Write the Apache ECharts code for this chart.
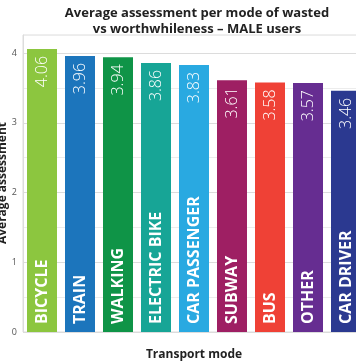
<!DOCTYPE html>
<html><head><meta charset="utf-8">
<script src="https://cdn.jsdelivr.net/npm/echarts@6/dist/echarts.min.js"></script>
<style>html,body{margin:0;padding:0;background:#fff;}#c{width:356px;height:364px;}</style>
</head><body><div id="c"></div>
<script>
const categories = ['BICYCLE','TRAIN','WALKING','ELECTRIC BIKE','CAR PASSENGER','SUBWAY','BUS','OTHER','CAR DRIVER'];
const values = [4.06, 3.96, 3.94, 3.86, 3.83, 3.61, 3.58, 3.57, 3.46];
const colors = ['#8cc63f','#1c75bc','#0f9447','#17a596','#29a9e1','#9e1f63','#ef4136','#662d91','#2b3990'];
const yTicks = [0, 1, 2, 3, 4];
const titleText = 'Average assessment per mode of wasted\nvs worthwhileness \u2013 MALE users';
const yTitle = 'Average assessment';

const chart = echarts.init(document.getElementById('c'), null, {renderer: 'canvas'});
const font = '"Open Sans", "Noto Sans", sans-serif';
chart.setOption({
  animation: false,
  textStyle: {fontFamily: font},
  title: {
    text: titleText, left: 192, top: 0, textAlign: 'center',
    textStyle: {fontSize: 13, fontWeight: 'bold', color: '#222', lineHeight: 16, fontFamily: font}
  },
  graphic: [{
    type: 'text', x: 3, y: 183, rotation: Math.PI / 2, silent: true,
    style: {text: yTitle, fill: '#222', font: 'bold 12px "Open Sans", "Noto Sans", sans-serif',
            textAlign: 'center', textVerticalAlign: 'middle'}
  }],
  grid: {left: 23, top: 35, width: 342, height: 297, show: true, borderColor: '#dcdcdc', borderWidth: 1,
         containLabel: false, outerBoundsMode: 'none'},
  xAxis: {
    type: 'category', data: categories,
    axisLine: {show: false}, axisTick: {show: false}, axisLabel: {show: false},
    name: 'Transport mode', nameLocation: 'middle', nameGap: 17, nameMoveOverlap: false,
    nameTextStyle: {fontSize: 12, fontWeight: 'bold', color: '#222', fontFamily: font}
  },
  yAxis: {
    type: 'value', min: 0, max: 4.26, interval: 0.5,
    axisLine: {show: true, lineStyle: {color: '#dcdcdc'}}, axisTick: {show: false},
    axisLabel: {
      fontSize: 9, color: '#555', margin: 6, fontFamily: font,
      formatter: v => (yTicks.indexOf(v) >= 0 ? String(v) : '')
    },
    splitLine: {show: true, lineStyle: {color: ['#dcdcdc', '#ececec'], width: 1}}
  },
  series: [
    {
      type: 'bar', data: values.map((v, i) => ({value: v, itemStyle: {color: colors[i]}})),
      barWidth: 30, barGap: '-100%',
      label: {
        show: true, position: 'insideBottom', rotate: 90, align: 'left', verticalAlign: 'middle',
        distance: 8, color: '#fff', fontSize: 16, fontWeight: 'bold', fontFamily: font,
        formatter: p => categories[p.dataIndex]
      }
    },
    {
      type: 'bar', data: values, barWidth: 30, barGap: '-100%',
      itemStyle: {color: 'rgba(0,0,0,0)'}, silent: true,
      label: {
        show: true, position: 'insideTop', rotate: 90, align: 'right', verticalAlign: 'middle',
        distance: 7, color: '#fff', fontSize: 16, fontWeight: 300, fontFamily: font,
        formatter: p => p.value.toFixed(2)
      }
    }
  ]
});
</script></body></html>
